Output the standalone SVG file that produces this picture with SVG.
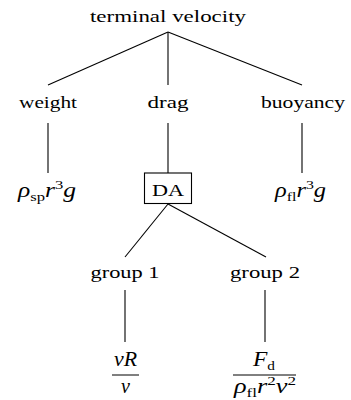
<svg xmlns="http://www.w3.org/2000/svg" width="351" height="400" viewBox="0 0 351 400">
<style>
text{font-family:"Liberation Serif","DejaVu Serif",serif;font-size:17px;fill:#000}
.c{text-anchor:middle}
.m{font-size:20px}
.i{font-style:italic}
.s{font-size:13px;font-style:normal}
.e{stroke:#000;stroke-width:1.1;fill:none}
</style>
<rect width="351" height="400" fill="#fff"/>
<g id="connectors">
<line class="e" x1="168" y1="32" x2="48" y2="85"/>
<line class="e" x1="168" y1="32" x2="168" y2="85"/>
<line class="e" x1="168" y1="32" x2="302" y2="85"/>
<line class="e" x1="48" y1="123" x2="48" y2="173"/>
<line class="e" x1="168" y1="123" x2="168" y2="173"/>
<line class="e" x1="302" y1="123" x2="302" y2="173"/>
<line class="e" x1="168" y1="204" x2="125" y2="257"/>
<line class="e" x1="168" y1="204" x2="266" y2="257"/>
<line class="e" x1="125" y1="290" x2="125" y2="342"/>
<line class="e" x1="265" y1="290" x2="265" y2="342"/>
</g>
<g id="terminal"><text class="c" x="168" y="22" textLength="156" lengthAdjust="spacingAndGlyphs">terminal velocity</text></g>
<g id="weight"><text class="c" x="48" y="108" textLength="58" lengthAdjust="spacingAndGlyphs">weight</text></g>
<g id="drag"><text class="c" x="168" y="108" textLength="41" lengthAdjust="spacingAndGlyphs">drag</text></g>
<g id="buoyancy"><text class="c" x="303" y="108" textLength="84" lengthAdjust="spacingAndGlyphs">buoyancy</text></g>
<g id="wexpr"><text class="m" x="18" y="197" textLength="58" lengthAdjust="spacingAndGlyphs"><tspan class="i">ρ</tspan><tspan class="s" dy="4">sp</tspan><tspan class="i" dy="-4">r</tspan><tspan class="s" dy="-8">3</tspan><tspan class="i" dy="8">g</tspan></text></g>
<g id="da"><rect x="144.5" y="173" width="47" height="30.5" fill="#fff" stroke="#000" stroke-width="1.1"/><text class="c" x="168" y="196" textLength="32" lengthAdjust="spacingAndGlyphs">DA</text></g>
<g id="bexpr"><text class="m" x="275" y="197" textLength="51" lengthAdjust="spacingAndGlyphs"><tspan class="i">ρ</tspan><tspan class="s" dy="4">fl</tspan><tspan class="i" dy="-4">r</tspan><tspan class="s" dy="-8">3</tspan><tspan class="i" dy="8">g</tspan></text></g>
<g id="group1"><text class="c" x="125" y="278" textLength="69" lengthAdjust="spacingAndGlyphs">group 1</text></g>
<g id="group2"><text class="c" x="265" y="278" textLength="70" lengthAdjust="spacingAndGlyphs">group 2</text></g>
<g id="g1expr"><text class="m c i" x="125.5" y="366" textLength="23" lengthAdjust="spacingAndGlyphs">vR</text><line x1="112" y1="375" x2="139" y2="375" stroke="#000" stroke-width="1"/><text class="m c i" x="125.5" y="393">ν</text></g>
<g id="g2expr"><text class="m" x="253" y="366" textLength="22" lengthAdjust="spacingAndGlyphs"><tspan class="i">F</tspan><tspan class="s" dy="4">d</tspan></text><line x1="233" y1="375" x2="296" y2="375" stroke="#000" stroke-width="1"/><text class="m" x="234" y="393" textLength="62" lengthAdjust="spacingAndGlyphs"><tspan class="i">ρ</tspan><tspan class="s" dy="4">fl</tspan><tspan class="i" dy="-4">r</tspan><tspan class="s" dy="-8">2</tspan><tspan class="i" dy="8">v</tspan><tspan class="s" dy="-8">2</tspan></text></g>
</svg>
